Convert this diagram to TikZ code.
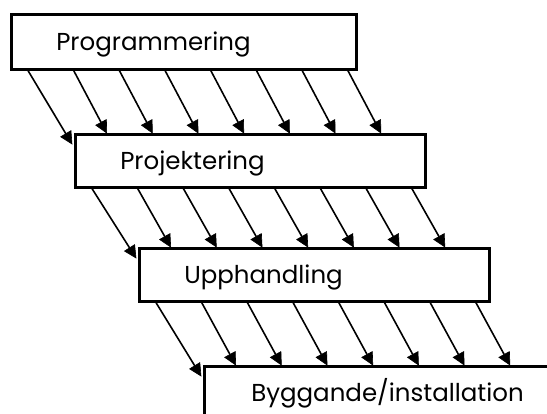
\documentclass[tikz,border=0pt]{standalone}
\usepackage{fontspec}
\setmainfont{Poppins}
\usetikzlibrary{calc}
\tikzset{
  stage/.style={draw, line width=2.6pt, anchor=north west, align=left,
    inner ysep=0pt, inner xsep=45pt, text height=18pt, text depth=0pt,
    font=\fontsize{24.5}{30}\selectfont},
  flowline/.style={line width=1.6pt},
  flowhead/.style={fill=black, draw=black, line width=0.6pt, line join=miter}
}
% arrow from #1 to #2 with a solid triangular head
\newcommand{\flowarrow}[2]{%
  \coordinate (fs) at (#1);
  \coordinate (fe) at (#2);
  \coordinate (fb) at ($(fe)!12pt!(fs)$);
  \draw[flowline] (fs) -- (fb);
  \filldraw[flowhead] ($(fb)!6pt!90:(fe)$) -- (fe) -- ($(fb)!6pt!-90:(fe)$) -- cycle;
}
\begin{document}
\begin{tikzpicture}[x=1pt,y=-1pt]
\useasboundingbox (0,0) rectangle (547,414);
\clip (0,0) rectangle (547,414);
% the four phases, each shifted down and to the right
\node[stage, minimum width=345pt, minimum height=55pt, text width=255pt] (p1) at (10,13) {Programmering};
\node[stage, minimum width=350pt, minimum height=53pt, text width=260pt] (p2) at (74,133) {Projektering};
\node[stage, minimum width=350pt, minimum height=53pt, text width=260pt] (p3) at (138,247) {Upphandling};
\node[stage, minimum width=400pt, minimum height=53pt, text width=310pt, inner xsep=47pt] (p4) at (203,365) {Byggande/installation};
% flows from each phase into the next one
\foreach \a/\b in {p1/p2,p2/p3,p3/p4}{
  \flowarrow{$(\a.south west)+(18,0)$}{$(\b.north west)+(-2,11)$}
  \foreach \k in {1,...,7}{
    \flowarrow{$(\a.south west)+(18+45.7*\k,0)$}{$(\b.north west)+(-13+45.7*\k,0)$}
  }
}
\end{tikzpicture}
\end{document}
